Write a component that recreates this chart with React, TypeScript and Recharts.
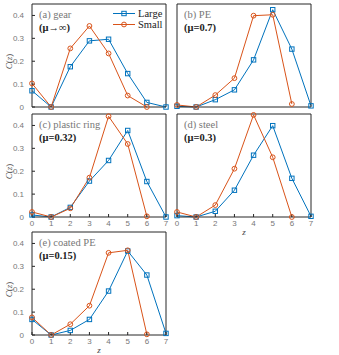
import React from 'react';
import { LineChart, Line, XAxis, YAxis } from 'recharts';

// z values shared by every panel
const zValues = [0, 1, 2, 3, 4, 5, 6, 7];
const yTicks = [0, 0.1, 0.2, 0.3, 0.4];

// C(z) for large and small particles
const gearLarge = [0.071, 0, 0.176, 0.289, 0.296, 0.146, 0.02, 0];
const gearSmall = [0.103, 0, 0.256, 0.354, 0.234, 0.05, 0, null];
const peLarge = [0.003, 0, 0.032, 0.075, 0.206, 0.425, 0.253, 0.005];
const peSmall = [0.009, 0, 0.052, 0.126, 0.399, 0.403, 0.013, null];
const ringLarge = [0.009, 0, 0.042, 0.157, 0.247, 0.378, 0.155, 0];
const ringSmall = [0.022, 0, 0.038, 0.172, 0.44, 0.319, 0.003, null];
const steelLarge = [0.006, 0, 0.025, 0.117, 0.27, 0.399, 0.169, 0.003];
const steelSmall = [0.022, 0, 0.052, 0.211, 0.446, 0.261, 0, null];
const coatedLarge = [0.068, 0, 0.02, 0.068, 0.192, 0.367, 0.262, 0.007];
const coatedSmall = [0.077, 0, 0.047, 0.128, 0.359, 0.37, 0.003, null];

const BLUE = '#0072BD';
const ORANGE = '#D95319';
const AXIS = '#262626';
const SERIF = '"Liberation Serif", "Times New Roman", serif';
const SANS = '"Liberation Sans", Arial, sans-serif';

const legendItems = [
  { name: 'Large', color: BLUE, shape: 'square' },
  { name: 'Small', color: ORANGE, shape: 'circle' },
];

const BOX_W = 134;
const BOX_H = 103;
const ML = 32;
const MR = 3;
const MT = 3;
const MB = 30;

const squareDot = (color: string) => (p: any) => {
  if (p.cy == null || p.value == null) return <g key={`s-${p.index}`} />;
  return (
    <rect key={`s-${p.index}`} x={p.cx - 2.2} y={p.cy - 2.2} width={4.4} height={4.4}
      fill="none" stroke={color} strokeWidth={1} />
  );
};

const circleDot = (color: string) => (p: any) => {
  if (p.cy == null || p.value == null) return <g key={`c-${p.index}`} />;
  return <circle key={`c-${p.index}`} cx={p.cx} cy={p.cy} r={2.4} fill="none" stroke={color} strokeWidth={1} />;
};

const LegendBox = () => (
  <div style={{ fontFamily: SERIF, fontSize: 10.5, color: '#222' }}>
    {legendItems.map((e, i) => (
      <div key={i} style={{ display: 'flex', alignItems: 'center', height: 11 }}>
        <svg width={23} height={11}>
          <line x1={0} x2={22} y1={5.5} y2={5.5} stroke={e.color} strokeWidth={1} />
          {e.shape === 'square' ? (
            <rect x={8.8} y={3.3} width={4.4} height={4.4} fill="none" stroke={e.color} />
          ) : (
            <circle cx={11} cy={5.5} r={2.4} fill="none" stroke={e.color} />
          )}
        </svg>
        <span style={{ marginLeft: 2 }}>{e.name}</span>
      </div>
    ))}
  </div>
);

interface PanelProps {
  left: number;
  top: number;
  large: (number | null)[];
  small: (number | null)[];
  title: string;
  mu: string;
  xLabels?: boolean;
  yLabels?: boolean;
  zLabel?: boolean;
  legend?: boolean;
}

const Panel: React.FC<PanelProps> = ({ left, top, large, small, title, mu, xLabels, yLabels, zLabel, legend }) => {
  const data = zValues.map((z, i) => ({ z, large: large[i], small: small[i] }));
  const tickStyle = { fill: '#777', fontSize: 8, fontFamily: SANS };
  const w = ML + BOX_W + MR + 1;
  const h = MT + 1 + BOX_H + MB;
  // plot box starts at (ML, MT + 1) inside the chart
  return (
    <div style={{ position: 'absolute', left: left - ML, top: top - MT - 1, width: w, height: h }}>
      <LineChart width={w} height={h} data={data} margin={{ top: MT, right: MR, bottom: 0, left: 0 }}>
        <XAxis xAxisId="b" dataKey="z" type="number" domain={[0, 7]} ticks={zValues}
          height={MB} tickSize={-3} tickMargin={6} stroke={AXIS}
          tick={xLabels ? tickStyle : false} />
        <XAxis xAxisId="t" orientation="top" type="number" domain={[0, 7]} ticks={zValues}
          height={1} tickSize={-3} tick={false} stroke={AXIS} />
        <YAxis yAxisId="l" type="number" domain={[0, 0.45]} ticks={yTicks} width={ML}
          tickSize={-3} tickMargin={11} stroke={AXIS}
          tickFormatter={(v: number) => (v === 0 ? '0' : String(v))}
          tick={yLabels ? tickStyle : false} />
        <YAxis yAxisId="r" orientation="right" type="number" domain={[0, 0.45]} ticks={yTicks}
          width={1} tickSize={-3} tick={false} stroke={AXIS} />
        <Line xAxisId="b" yAxisId="l" dataKey="large" name="Large" stroke={BLUE} strokeWidth={1}
          dot={squareDot(BLUE)} isAnimationActive={false} />
        <Line xAxisId="b" yAxisId="l" dataKey="small" name="Small" stroke={ORANGE} strokeWidth={1}
          dot={circleDot(ORANGE)} isAnimationActive={false} />
      </LineChart>
      <svg style={{ position: 'absolute', left: 0, top: 0, pointerEvents: 'none' }} width={w} height={h}>
        {yLabels && (
          <text transform={`translate(12, ${MT + 1 + BOX_H / 2 + 6}) rotate(-90)`} textAnchor="middle"
            fontFamily={SERIF} fontSize={9} fill="#444">
            <tspan fontStyle="italic">C</tspan>(<tspan fontStyle="italic">z</tspan>)
          </text>
        )}
        {zLabel && (
          <text x={ML + BOX_W / 2} y={MT + 1 + BOX_H + 18} textAnchor="middle"
            fontFamily={SERIF} fontStyle="italic" fontSize={9} fill="#444">z</text>
        )}
      </svg>
      <div style={{ position: 'absolute', left: ML + 7, top: MT + 1 + 5, fontFamily: SERIF, fontSize: 10.5,
        lineHeight: '12.5px', whiteSpace: 'nowrap' }}>
        <div style={{ color: '#777' }}>{title}</div>
        <div style={{ color: '#222', fontWeight: 'bold' }}>{mu}</div>
      </div>
      {legend && (
        <div style={{ position: 'absolute', left: ML + 81, top: MT + 1 + 3.5 }}>
          <LegendBox />
        </div>
      )}
    </div>
  );
};

export default function App() {
  return (
    <div style={{ position: 'absolute', left: 0, top: 0, width: 339, height: 355, background: '#fff' }}>
      <Panel left={32} top={4} large={gearLarge} small={gearSmall} title="(a) gear" mu="(μ→∞)"
        yLabels legend />
      <Panel left={177} top={4} large={peLarge} small={peSmall} title="(b) PE" mu="(μ=0.7)" />
      <Panel left={32} top={114} large={ringLarge} small={ringSmall} title="(c) plastic ring" mu="(μ=0.32)"
        xLabels yLabels />
      <Panel left={177} top={114} large={steelLarge} small={steelSmall} title="(d) steel" mu="(μ=0.3)"
        xLabels zLabel />
      <Panel left={32} top={232} large={coatedLarge} small={coatedSmall} title="(e) coated PE" mu="(μ=0.15)"
        xLabels yLabels zLabel />
    </div>
  );
}
